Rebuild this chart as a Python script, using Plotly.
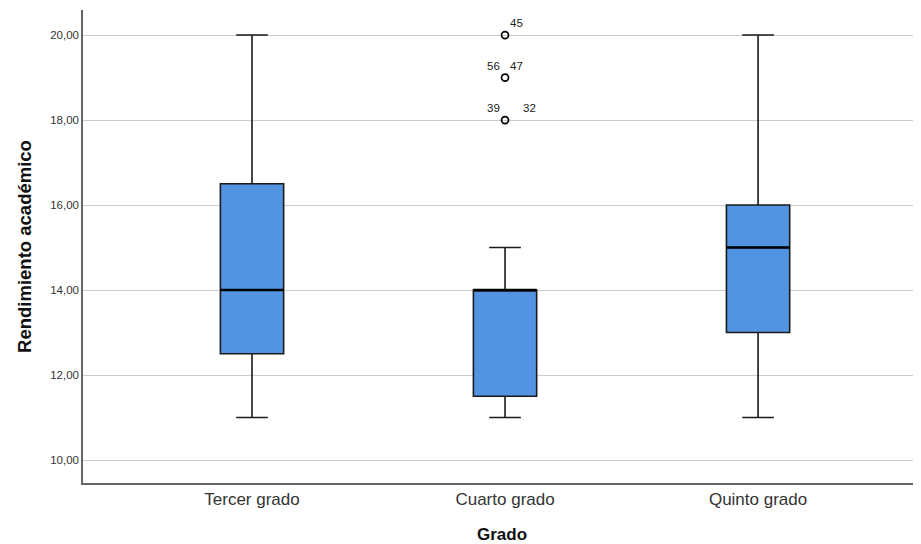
import plotly.graph_objects as go

categories = ["Tercer grado", "Cuarto grado", "Quinto grado"]
lower_whisker = [11, 11, 11]
q1 = [12.5, 11.5, 13]
median = [14, 14, 15]
q3 = [16.5, 14, 16]
upper_whisker = [20, 15, 20]

outlier_group = [1, 1, 1]
outlier_values = [20, 19, 18]
outlier_labels = [[("45", "right")], [("56", "left"), ("47", "right")], [("39", "left"), ("32", "far")]]

yticks = [10, 12, 14, 16, 18, 20]

box_w = 0.25
pos = list(range(len(categories)))

fig = go.Figure()
for i, c in enumerate(categories):
    fig.add_trace(go.Box(
        x=[pos[i]], q1=[q1[i]], median=[median[i]], q3=[q3[i]],
        lowerfence=[lower_whisker[i]], upperfence=[upper_whisker[i]],
        width=box_w, whiskerwidth=0.5,
        fillcolor="#5294E2", line=dict(color="#1a1a1a", width=1.6),
        boxpoints=False, showlegend=False, hoverinfo="skip",
    ))
    # thicker median line
    fig.add_trace(go.Scatter(
        x=[pos[i] - box_w / 2, pos[i] + box_w / 2], y=[median[i], median[i]],
        mode="lines", line=dict(color="#000000", width=2.4),
        showlegend=False, hoverinfo="skip",
    ))

fig.add_trace(go.Scatter(
    x=outlier_group, y=outlier_values, mode="markers",
    marker=dict(symbol="circle-open", size=7, color="#000000", line=dict(width=1.7)),
    showlegend=False, hoverinfo="skip",
))

for g, v, labs in zip(outlier_group, outlier_values, outlier_labels):
    for txt, side in labs:
        xs = {"left": -12, "right": 11, "far": 24}[side]
        fig.add_annotation(x=g, y=v, text=txt, showarrow=False, xshift=xs, yshift=12,
                           font=dict(family="Liberation Sans, Arial", size=11.5, color="#222222"))

fig.update_layout(
    width=913, height=536,
    margin=dict(l=75, r=0, t=2, b=61),
    paper_bgcolor="white", plot_bgcolor="white",
    separators=",.",
    font=dict(family="Liberation Sans, Arial", color="#222222"),
)
fig.update_xaxes(
    range=[-0.668, 2.644], tickvals=pos, ticktext=categories,
    showgrid=False, zeroline=False, showline=True, linecolor="#666666", linewidth=1.5,
    ticks="", tickfont=dict(size=17, color="#333333"), automargin=False,
    title=dict(text="<b>Grado</b>", font=dict(size=17, color="#111111"), standoff=23),
)
fig.update_yaxes(
    range=[9.46, 20.59], tickvals=yticks, tickformat=".2f",
    showgrid=True, gridcolor="#cccccc", gridwidth=1.3, zeroline=False,
    showline=True, linecolor="#666666", linewidth=1.5,
    ticks="", tickfont=dict(size=11.5, color="#333333"),
    title=dict(text="<b>Rendimiento académico</b>", font=dict(size=18.5, color="#111111"), standoff=14),
)

fig.write_html("out.html")
